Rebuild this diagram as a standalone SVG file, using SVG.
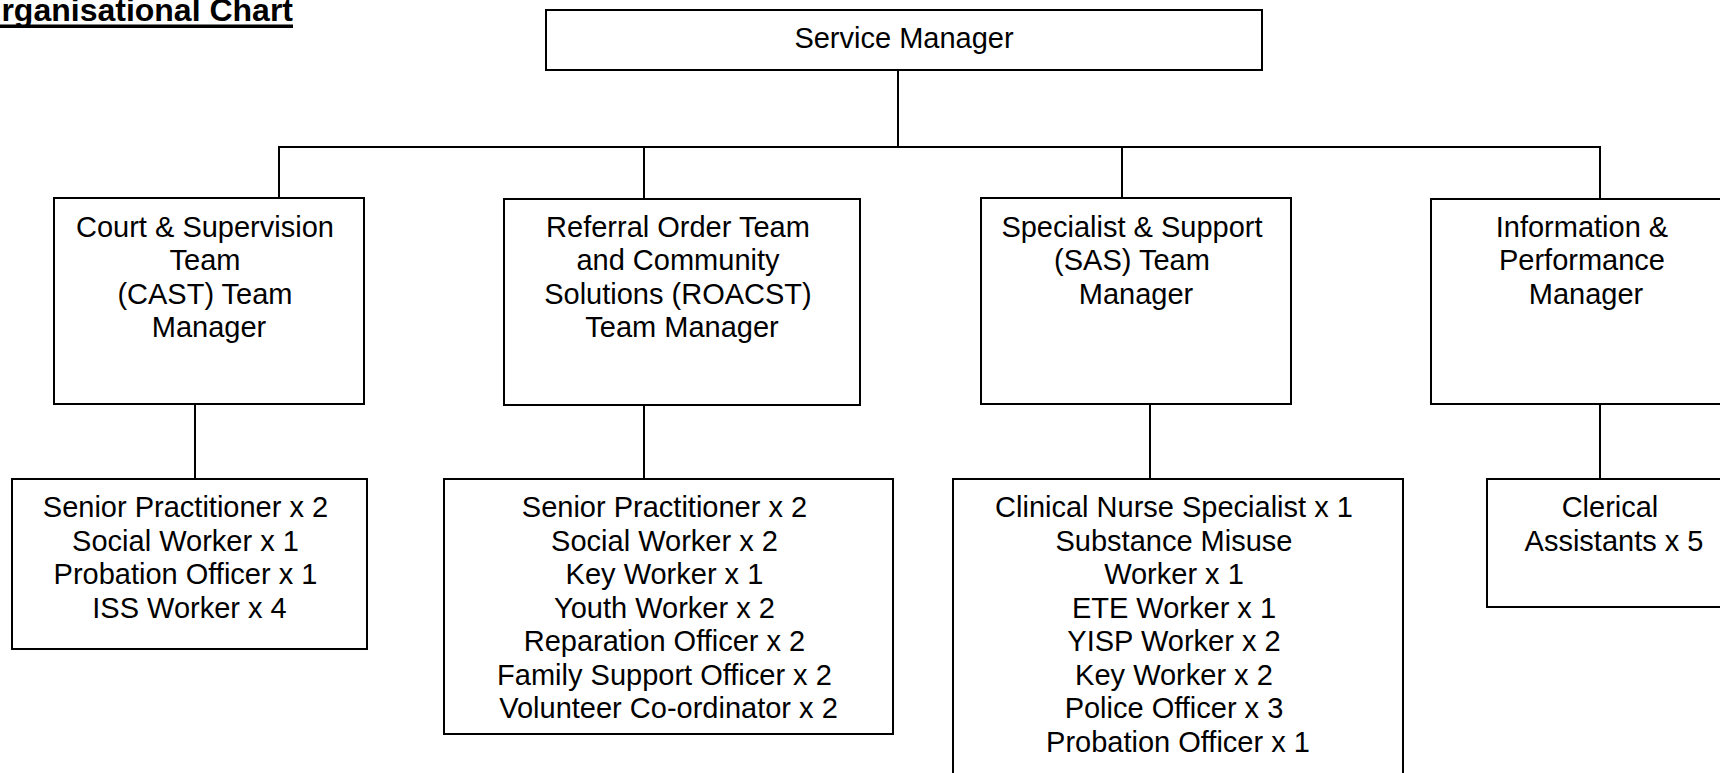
<svg xmlns="http://www.w3.org/2000/svg" width="1720" height="773" viewBox="0 0 1720 773">
  <style>
    .box { fill: #ffffff; stroke: #000000; stroke-width: 2; }
    .conn { fill: none; stroke: #000000; stroke-width: 2; }
    .lbl { font-family: "Liberation Sans", Arial, sans-serif; font-size: 29px; fill: #000000; text-anchor: middle; }
    .title { font-family: "Liberation Sans", Arial, sans-serif; font-size: 32px; font-weight: bold; fill: #000000; text-anchor: end; }
  </style>
  <rect width="1720" height="773" fill="#ffffff"/>

  <g id="title">
    <text class="title" x="293" y="21">rganisational Chart</text>
    <rect x="0" y="24.5" width="293" height="3.5" fill="#000000"/>
  </g>

  <g id="connectors">
    <line class="conn" x1="898" y1="70" x2="898" y2="147"/>
    <line class="conn" x1="279" y1="147" x2="1600" y2="147"/>
    <line class="conn" x1="279" y1="146" x2="279" y2="198"/>
    <line class="conn" x1="644" y1="146" x2="644" y2="199"/>
    <line class="conn" x1="1122" y1="146" x2="1122" y2="198"/>
    <line class="conn" x1="1600" y1="146" x2="1600" y2="199"/>
    <line class="conn" x1="195" y1="404" x2="195" y2="479"/>
    <line class="conn" x1="644" y1="405" x2="644" y2="479"/>
    <line class="conn" x1="1150" y1="404" x2="1150" y2="479"/>
    <line class="conn" x1="1600" y1="404" x2="1600" y2="479"/>
  </g>

  <g id="service-manager">
    <rect class="box" x="546" y="10" width="716" height="60"/>
    <text class="lbl" x="904" y="48">Service Manager</text>
  </g>

  <g id="cast-manager">
    <rect class="box" x="54" y="198" width="310" height="206"/>
    <text class="lbl" y="237">
      <tspan x="209">Court &amp; Supervision</tspan>
      <tspan x="209" dy="33.4">Team</tspan>
      <tspan x="209" dy="33.4">(CAST) Team</tspan>
      <tspan x="209" dy="33.4">Manager</tspan>
    </text>
  </g>

  <g id="roacst-manager">
    <rect class="box" x="504" y="199" width="356" height="206"/>
    <text class="lbl" y="237">
      <tspan x="682">Referral Order Team</tspan>
      <tspan x="682" dy="33.4">and Community</tspan>
      <tspan x="682" dy="33.4">Solutions (ROACST)</tspan>
      <tspan x="682" dy="33.4">Team Manager</tspan>
    </text>
  </g>

  <g id="sas-manager">
    <rect class="box" x="981" y="198" width="310" height="206"/>
    <text class="lbl" y="237">
      <tspan x="1136">Specialist &amp; Support</tspan>
      <tspan x="1136" dy="33.4">(SAS) Team</tspan>
      <tspan x="1136" dy="33.4">Manager</tspan>
    </text>
  </g>

  <g id="info-manager">
    <rect class="box" x="1431" y="199" width="310" height="205"/>
    <text class="lbl" y="237">
      <tspan x="1586">Information &amp;</tspan>
      <tspan x="1586" dy="33.4">Performance</tspan>
      <tspan x="1586" dy="33.4">Manager</tspan>
    </text>
  </g>

  <g id="cast-staff">
    <rect class="box" x="12" y="479" width="355" height="170"/>
    <text class="lbl" y="517">
      <tspan x="189.5">Senior Practitioner x 2</tspan>
      <tspan x="189.5" dy="33.5">Social Worker x 1</tspan>
      <tspan x="189.5" dy="33.5">Probation Officer x 1</tspan>
      <tspan x="189.5" dy="33.5">ISS Worker x 4</tspan>
    </text>
  </g>

  <g id="roacst-staff">
    <rect class="box" x="444" y="479" width="449" height="255"/>
    <text class="lbl" y="517">
      <tspan x="668.5">Senior Practitioner x 2</tspan>
      <tspan x="668.5" dy="33.5">Social Worker x 2</tspan>
      <tspan x="668.5" dy="33.5">Key Worker x 1</tspan>
      <tspan x="668.5" dy="33.5">Youth Worker x 2</tspan>
      <tspan x="668.5" dy="33.5">Reparation Officer x 2</tspan>
      <tspan x="668.5" dy="33.5">Family Support Officer x 2</tspan>
      <tspan x="668.5" dy="33.5">Volunteer Co-ordinator x 2</tspan>
    </text>
  </g>

  <g id="sas-staff">
    <rect class="box" x="953" y="479" width="450" height="320"/>
    <text class="lbl" y="517">
      <tspan x="1178">Clinical Nurse Specialist x 1</tspan>
      <tspan x="1178" dy="33.5">Substance Misuse</tspan>
      <tspan x="1178" dy="33.5">Worker x 1</tspan>
      <tspan x="1178" dy="33.5">ETE Worker x 1</tspan>
      <tspan x="1178" dy="33.5">YISP Worker x 2</tspan>
      <tspan x="1178" dy="33.5">Key Worker x 2</tspan>
      <tspan x="1178" dy="33.5">Police Officer x 3</tspan>
      <tspan x="1178" dy="33.5">Probation Officer x 1</tspan>
    </text>
  </g>

  <g id="clerical-staff">
    <rect class="box" x="1487" y="479" width="260" height="128"/>
    <text class="lbl" y="517">
      <tspan x="1614">Clerical</tspan>
      <tspan x="1614" dy="33.5">Assistants x 5</tspan>
    </text>
  </g>
</svg>
